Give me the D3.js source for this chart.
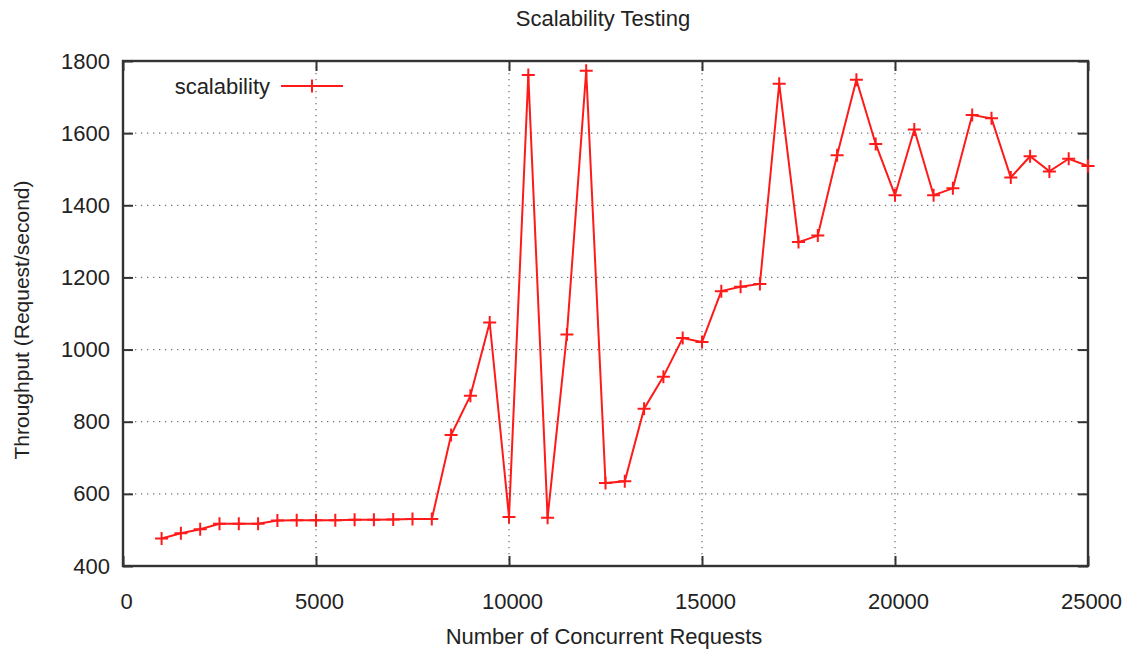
<!DOCTYPE html>
<html>
<head>
<meta charset="utf-8">
<script src="https://cdn.jsdelivr.net/npm/d3@7"></script>
<style>
  body { margin: 0; background: white; }
  text { font-family: "Liberation Sans", Arial, sans-serif; fill: #222; }
</style>
</head>
<body>
<svg id="chart" width="1124" height="652"></svg>
<script>
// number of concurrent requests
var requests = [1000, 1500, 2000, 2500, 3000, 3500, 4000, 4500, 5000, 5500,
  6000, 6500, 7000, 7500, 8000, 8500, 9000, 9500, 10000, 10500,
  11000, 11500, 12000, 12500, 13000, 13500, 14000, 14500, 15000, 15500,
  16000, 16500, 17000, 17500, 18000, 18500, 19000, 19500, 20000, 20500,
  21000, 21500, 22000, 22500, 23000, 23500, 24000, 24500, 25000];

// throughput (request/second)
var throughput = [476, 491, 502, 517, 517, 517, 526, 527, 527, 527,
  528, 528, 529, 530, 530, 763, 872, 1075, 536, 1761,
  534, 1042, 1773, 630, 635, 836, 925, 1032, 1021, 1162,
  1174, 1182, 1737, 1298, 1316, 1539, 1748, 1570, 1428, 1610,
  1428, 1447, 1650, 1641, 1477, 1536, 1494, 1529, 1509];

var xTicks = [0, 5000, 10000, 15000, 20000, 25000];
var yTicks = [400, 600, 800, 1000, 1200, 1400, 1600, 1800];

var title = "Scalability Testing";
var xTitle = "Number of Concurrent Requests";
var yTitle = "Throughput (Request/second)";
var seriesName = "scalability";

var m = { left: 123, top: 61, right: 1088, bottom: 566 };
var svg = d3.select("#chart");

var x = d3.scaleLinear().domain([0, 25000]).range([m.left, m.right]);
var y = d3.scaleLinear().domain([400, 1800]).range([m.bottom, m.top]);

var data = requests.map(function(r, i) { return { x: r, y: throughput[i] }; });

//grid
var grid = svg.append("g").attr("class", "grid");
grid.selectAll(".hgrid")
  .data(yTicks.slice(1, -1))
  .enter().append("line")
  .attr("x1", m.left).attr("x2", m.right)
  .attr("y1", function(d) { return y(d); })
  .attr("y2", function(d) { return y(d); })
  .style("stroke", "#777")
  .style("stroke-width", 1.3)
  .style("stroke-dasharray", "1.3,4.7");
grid.selectAll(".vgrid")
  .data(xTicks.slice(1, -1))
  .enter().append("line")
  .attr("y1", m.top).attr("y2", m.bottom)
  .attr("x1", function(d) { return x(d); })
  .attr("x2", function(d) { return x(d); })
  .style("stroke", "#777")
  .style("stroke-width", 1.3)
  .style("stroke-dasharray", "1.3,4.7");

// axes, ticks point inwards, mirrored on the other side
var tickLen = 10;
var axisColor = "#333";

svg.append("g")
  .attr("transform", "translate(0," + m.bottom + ")")
  .call(d3.axisBottom(x).tickValues(xTicks).tickSize(-tickLen).tickPadding(27).tickFormat(d3.format("d")))
  .call(function(g) {
    g.select(".domain").remove();
    g.selectAll("line").style("stroke", axisColor).style("stroke-width", 2);
    g.selectAll("text").style("font-size", "22px").style("fill", "#222").attr("dx", 3);
  });

svg.append("g")
  .attr("transform", "translate(0," + m.top + ")")
  .call(d3.axisTop(x).tickValues(xTicks).tickSize(-tickLen).tickFormat(""))
  .call(function(g) {
    g.select(".domain").remove();
    g.selectAll("line").style("stroke", axisColor).style("stroke-width", 2);
  });

svg.append("g")
  .attr("transform", "translate(" + m.left + ",0)")
  .call(d3.axisLeft(y).tickValues(yTicks).tickSize(-tickLen).tickPadding(13).tickFormat(d3.format("d")))
  .call(function(g) {
    g.select(".domain").remove();
    g.selectAll("line").style("stroke", axisColor).style("stroke-width", 2);
    g.selectAll("text").style("font-size", "22px").style("fill", "#222");
  });

svg.append("g")
  .attr("transform", "translate(" + m.right + ",0)")
  .call(d3.axisRight(y).tickValues(yTicks).tickSize(-tickLen).tickFormat(""))
  .call(function(g) {
    g.select(".domain").remove();
    g.selectAll("line").style("stroke", axisColor).style("stroke-width", 2);
  });

// border
svg.append("rect")
  .attr("x", m.left).attr("y", m.top)
  .attr("width", m.right - m.left)
  .attr("height", m.bottom - m.top)
  .style("fill", "none")
  .style("stroke", axisColor)
  .style("stroke-width", 2.4);

// series line
var line = d3.line()
  .x(function(d) { return x(d.x); })
  .y(function(d) { return y(d.y); });

svg.append("path")
  .datum(data)
  .attr("d", line)
  .style("fill", "none")
  .style("stroke", "#ff1a1a")
  .style("stroke-width", 2);

//plus markers
function plus(cx, cy, s) {
  return "M" + (cx - s) + "," + cy + "H" + (cx + s) + "M" + cx + "," + (cy - s) + "V" + (cy + s);
}

svg.append("g").selectAll("path")
  .data(data)
  .enter().append("path")
  .attr("d", function(d) { return plus(x(d.x), y(d.y), 6.5); })
  .style("stroke", "#ff1a1a")
  .style("stroke-width", 2);

// legend
var lg = svg.append("g").attr("class", "legend");
lg.append("text")
  .text(seriesName)
  .attr("x", 270).attr("y", 86)
  .attr("dy", "0.35em")
  .attr("text-anchor", "end")
  .style("font-size", "22px");
lg.append("line")
  .attr("x1", 281).attr("x2", 343)
  .attr("y1", 86).attr("y2", 86)
  .style("stroke", "#ff1a1a")
  .style("stroke-width", 2);
lg.append("path")
  .attr("d", plus(312, 86, 6.5))
  .style("stroke", "#ff1a1a")
  .style("stroke-width", 2);

// titles
svg.append("text")
  .text(title)
  .attr("x", 603).attr("y", 26)
  .attr("text-anchor", "middle")
  .style("font-size", "22px");

svg.append("text")
  .text(xTitle)
  .attr("x", 604).attr("y", 644)
  .attr("text-anchor", "middle")
  .style("font-size", "22px");

svg.append("text")
  .text(yTitle)
  .attr("text-anchor", "middle")
  .attr("transform", "translate(29,320) rotate(-90)")
  .style("font-size", "21px");
</script>
</body>
</html>
